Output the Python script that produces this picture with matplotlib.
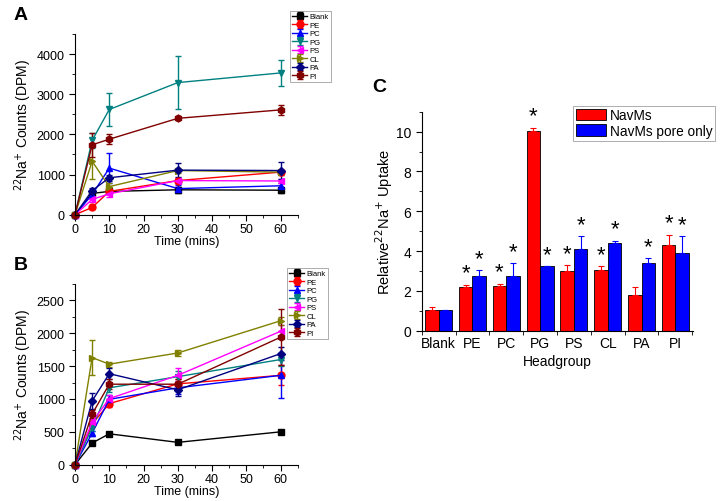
import matplotlib
matplotlib.use("Agg")
import matplotlib.pyplot as plt
from matplotlib.ticker import MultipleLocator
import numpy as np

plt.rcParams['font.family'] = ['Liberation Sans', 'DejaVu Sans']

times = [0, 5, 10, 30, 60]
groups = ["Blank", "PE", "PC", "PG", "PS", "CL", "PA", "PI"]
colors = ["#000000", "#FF0000", "#0000FF", "#008080", "#FF00FF", "#808000", "#000080", "#800000"]
markers = ["s", "o", "^", "v", "<", ">", "D", "h"]

# Panel A: NavMs
a_vals = {
    "Blank": [0, 530, 580, 620, 610],
    "PE":    [0, 180, 580, 850, 1060],
    "PC":    [0, 500, 1160, 650, 720],
    "PG":    [0, 1850, 2620, 3290, 3530],
    "PS":    [0, 380, 520, 850, 840],
    "CL":    [0, 1330, 700, 1100, 1060],
    "PA":    [0, 600, 920, 1110, 1100],
    "PI":    [0, 1740, 1880, 2400, 2610],
}
a_errs = {
    "Blank": [0, 40, 40, 80, 60],
    "PE":    [0, 40, 60, 60, 60],
    "PC":    [0, 60, 380, 80, 60],
    "PG":    [0, 180, 420, 660, 320],
    "PS":    [0, 60, 80, 60, 60],
    "CL":    [0, 430, 80, 60, 60],
    "PA":    [0, 60, 80, 180, 220],
    "PI":    [0, 300, 120, 50, 120],
}

# Panel B: NavMs pore only
b_vals = {
    "Blank": [0, 330, 470, 340, 500],
    "PE":    [0, 620, 930, 1230, 1360],
    "PC":    [0, 480, 995, 1170, 1360],
    "PG":    [0, 560, 1170, 1340, 1600],
    "PS":    [0, 650, 1005, 1360, 2030],
    "CL":    [0, 1630, 1530, 1700, 2190],
    "PA":    [0, 970, 1385, 1140, 1690],
    "PI":    [0, 770, 1225, 1225, 1940],
}
b_errs = {
    "Blank": [0, 20, 20, 20, 20],
    "PE":    [0, 40, 50, 80, 150],
    "PC":    [0, 40, 60, 100, 340],
    "PG":    [0, 40, 60, 80, 100],
    "PS":    [0, 40, 60, 110, 100],
    "CL":    [0, 270, 40, 40, 60],
    "PA":    [0, 120, 80, 100, 100],
    "PI":    [0, 60, 80, 80, 430],
}

# Panel C
c_navms = [1.04, 2.17, 2.24, 10.03, 3.01, 3.03, 1.79, 4.31]
c_navms_err = [0.13, 0.15, 0.13, 0.17, 0.30, 0.20, 0.42, 0.52]
c_pore = [1.02, 2.76, 2.73, 3.23, 4.08, 4.38, 3.41, 3.90]
c_pore_err = [0.0, 0.30, 0.68, 0.03, 0.69, 0.15, 0.22, 0.87]
c_sig_navms = [False, True, True, True, True, True, False, True]
c_sig_pore = [False, True, True, True, True, True, True, True]

fig = plt.figure(figsize=(7.22, 5.02), dpi=100)

def line_panel(rect, vals, errs, ymax, ymajor, yminor, leg_anchor):
    ax = fig.add_axes(rect)
    handles = []
    for g, c, m in zip(groups, colors, markers):
        ms = 4 if m == "D" else 5
        h = ax.errorbar(times, vals[g], yerr=errs[g], color=c, marker=m, ms=ms,
                        lw=1, elinewidth=1, capsize=2, capthick=1, label=g,
                        clip_on=False)
        for art in h.get_children():
            art.set_clip_on(False)
        handles.append(h)
    ax.set_xlim(0, 65)
    ax.set_ylim(0, ymax)
    ax.xaxis.set_major_locator(MultipleLocator(10))
    ax.xaxis.set_minor_locator(MultipleLocator(5))
    ax.yaxis.set_major_locator(MultipleLocator(ymajor))
    ax.yaxis.set_minor_locator(MultipleLocator(yminor))
    for s in ["top", "right"]:
        ax.spines[s].set_visible(False)
    ax.tick_params(which="both", direction="out", labelsize=9)
    ax.tick_params(which="major", length=4)
    ax.tick_params(which="minor", length=2)
    ax.tick_params(axis="x", pad=2)
    ax.set_xlabel("Time (mins)", fontsize=9, labelpad=0)
    ax.set_ylabel("$^{22}$Na$^{+}$ Counts (DPM)", fontsize=10, labelpad=2)
    leg = ax.legend(handles=handles, labels=groups, loc="upper left",
                    bbox_to_anchor=leg_anchor, bbox_transform=fig.transFigure,
                    fontsize=5.5, frameon=True, fancybox=False, edgecolor="#888888",
                    handlelength=2.0, handletextpad=0.3, labelspacing=0.15,
                    borderpad=0.25, borderaxespad=0)
    leg.get_frame().set_linewidth(0.6)
    return ax

line_panel([75/722, 1-215.7/502, 222.7/722, 180.7/502], a_vals, a_errs,
           4500, 1000, 500, (290/722, 1-12/502))
line_panel([75/722, 1-465.7/502, 222.7/722, 180.7/502], b_vals, b_errs,
           2750, 500, 250, (287/722, 1-269/502))

fig.text(14/722, 1-16/502, "A", fontsize=14, fontweight="bold", va="center")
fig.text(14/722, 1-266/502, "B", fontsize=14, fontweight="bold", va="center")
fig.text(372/722, 1-87/502, "C", fontsize=14, fontweight="bold", va="center")

# Panel C
axc = fig.add_axes([421.7/722, 1-331.7/502, 271.3/722, 219/502])
x = np.arange(len(groups))
w = 0.4
axc.bar(x - w/2, c_navms, w, color="#FF0000", edgecolor="#000000", lw=0.6,
        label="NavMs")
axc.bar(x + w/2, c_pore, w, color="#0000FF", edgecolor="#000000", lw=0.6,
        label="NavMs pore only")
axc.errorbar(x - w/2, c_navms, yerr=[np.zeros(len(x)), c_navms_err], fmt="none",
             ecolor="#FF0000", elinewidth=0.8, capsize=2.5, capthick=0.8)
axc.errorbar(x + w/2, c_pore, yerr=[np.zeros(len(x)), c_pore_err], fmt="none",
             ecolor="#0000FF", elinewidth=0.8, capsize=2.5, capthick=0.8)
for i in range(len(x)):
    if c_sig_navms[i]:
        axc.text(x[i] - w/2, c_navms[i] + c_navms_err[i] + 0.05, "*", ha="center",
                 va="bottom", fontsize=16)
    if c_sig_pore[i]:
        axc.text(x[i] + w/2, c_pore[i] + c_pore_err[i] + 0.05, "*", ha="center",
                 va="bottom", fontsize=16)
axc.set_xlim(-0.5, 7.52)
axc.set_ylim(0, 11)
axc.set_xticks(x)
axc.set_xticklabels(groups)
axc.xaxis.set_minor_locator(MultipleLocator(1, offset=0.5))
axc.yaxis.set_major_locator(MultipleLocator(2))
axc.yaxis.set_minor_locator(MultipleLocator(1))
for s in ["top", "right"]:
    axc.spines[s].set_visible(False)
axc.tick_params(axis="x", which="major", length=0, labelsize=10, pad=4)
axc.tick_params(axis="x", which="minor", length=3, direction="out")
axc.tick_params(axis="y", which="both", direction="out", labelsize=10)
axc.tick_params(axis="y", which="major", length=4)
axc.tick_params(axis="y", which="minor", length=2)
axc.set_xlabel("Headgroup", fontsize=10, labelpad=3)
axc.set_ylabel("Relative$^{22}$Na$^{+}$ Uptake", fontsize=10.5, labelpad=1)
legc = axc.legend(loc="upper left", bbox_to_anchor=(573/722, 1-106.7/502),
                  bbox_transform=fig.transFigure, fontsize=9.8, frameon=True,
                  fancybox=False, edgecolor="#888888", handlelength=2.2,
                  handleheight=0.9, handletextpad=0.3, labelspacing=0.1,
                  borderpad=0.2, borderaxespad=0)
legc.get_frame().set_linewidth(0.6)

fig.savefig("out.png", dpi=100)
